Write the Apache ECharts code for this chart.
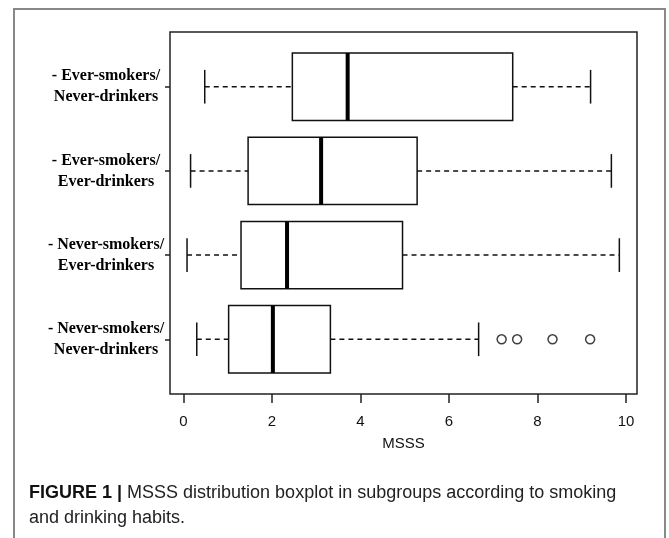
<!DOCTYPE html>
<html>
<head>
<meta charset="utf-8">
<script src="https://cdn.jsdelivr.net/npm/echarts@6/dist/echarts.min.js"></script>
<style>
html,body{margin:0;padding:0;background:#fff;}
#chart{width:669px;height:538px;}
</style>
</head>
<body>
<div id="chart"></div>
<script>
// Categories from bottom (position 1) to top (position 4)
const categories = [
  '- Never-smokers/\nNever-drinkers',
  '- Never-smokers/\nEver-drinkers',
  '- Ever-smokers/\nEver-drinkers',
  '- Ever-smokers/\nNever-drinkers'
];
const positions = [1, 2, 3, 4];
const lowerWhisker = [0.30, 0.08, 0.16, 0.48];
const q1 = [1.02, 1.30, 1.46, 2.46];
const median = [2.02, 2.34, 3.11, 3.71];
const q3 = [3.32, 4.95, 5.28, 7.44];
const upperWhisker = [6.67, 9.85, 9.67, 9.20];
const outlierValues = [7.19, 7.54, 8.34, 9.19];
const outlierGroup = [1, 1, 1, 1];
const xTicks = [0, 2, 4, 6, 8, 10];
const xName = 'MSSS';
const captionBold = 'FIGURE 1 |';
const captionLine1 = ' MSSS distribution boxplot in subgroups according to smoking';
const captionLine2 = 'and drinking habits.';

const boxData = positions.map((p, i) => [p, lowerWhisker[i], q1[i], median[i], q3[i], upperWhisker[i]]);
const outlierData = outlierValues.map((v, i) => [v, outlierGroup[i]]);

const chart = echarts.init(document.getElementById('chart'), null, {renderer: 'canvas'});

function renderBox(params, api) {
  const y = api.value(0);
  const lo = api.coord([api.value(1), y]);
  const a = api.coord([api.value(2), y]);
  const m = api.coord([api.value(3), y]);
  const b = api.coord([api.value(4), y]);
  const hi = api.coord([api.value(5), y]);
  const hb = api.size([0, 0.4])[1];
  const hc = api.size([0, 0.2])[1];
  const cy = lo[1];
  const dash = {stroke: '#111', lineWidth: 1.5, lineDash: [5, 4]};
  const solid = {stroke: '#111', lineWidth: 1.5};
  return {
    type: 'group',
    children: [
      {type: 'line', shape: {x1: lo[0], y1: cy, x2: a[0], y2: cy}, style: dash},
      {type: 'line', shape: {x1: b[0], y1: cy, x2: hi[0], y2: cy}, style: dash},
      {type: 'line', shape: {x1: lo[0], y1: cy - hc, x2: lo[0], y2: cy + hc}, style: solid},
      {type: 'line', shape: {x1: hi[0], y1: cy - hc, x2: hi[0], y2: cy + hc}, style: solid},
      {type: 'rect', shape: {x: a[0], y: cy - hb, width: b[0] - a[0], height: 2 * hb},
        style: {fill: '#fff', stroke: '#111', lineWidth: 1.5}},
      {type: 'line', shape: {x1: m[0], y1: cy - hb, x2: m[0], y2: cy + hb},
        style: {stroke: '#000', lineWidth: 4}}
    ]
  };
}

chart.setOption({
  animation: false,
  backgroundColor: '#fff',
  grid: {
    left: 170, top: 32, right: 32, bottom: 144,
    show: true, borderColor: '#222', borderWidth: 1.5, backgroundColor: 'transparent'
  },
  xAxis: {
    type: 'value',
    min: -0.305, max: 10.249,
    name: xName,
    nameLocation: 'middle',
    nameGap: 42,
    nameTextStyle: {fontFamily: 'Liberation Sans', fontSize: 15, color: '#111'},
    axisLine: {show: false, onZero: false},
    splitLine: {show: false},
    axisTick: {show: true, length: 9, lineStyle: {color: '#222', width: 1.5}, customValues: xTicks},
    axisLabel: {
      customValues: xTicks,
      margin: 20,
      fontFamily: 'Liberation Sans', fontSize: 15, color: '#111'
    }
  },
  yAxis: {
    type: 'value',
    min: 0.35, max: 4.65,
    axisLine: {show: false, onZero: false},
    splitLine: {show: false},
    axisTick: {show: true, length: 5, lineStyle: {color: '#222', width: 1.5}, customValues: positions},
    axisLabel: {
      customValues: positions,
      formatter: function (v) { return categories[Math.round(v) - 1] || ''; },
      margin: 64,
      align: 'center',
      lineHeight: 21,
      fontFamily: 'Liberation Serif', fontWeight: 'bold', fontSize: 16, color: '#000'
    }
  },
  series: [
    {
      type: 'custom',
      renderItem: renderBox,
      data: boxData,
      encode: {x: [1, 2, 3, 4, 5], y: 0},
      z: 2
    },
    {
      type: 'scatter',
      data: outlierData,
      symbol: 'circle',
      symbolSize: 9,
      itemStyle: {color: '#fff', borderColor: '#111', borderWidth: 1.5},
      z: 3
    }
  ],
  graphic: [
    {
      type: 'rect', z: -1, silent: true,
      shape: {x: 14, y: 9, width: 651, height: 620},
      style: {fill: 'none', stroke: '#888', lineWidth: 2}
    },
    {
      type: 'text', x: 29, y: 493,
      style: {
        text: '{b|' + captionBold + '}' + captionLine1,
        fontFamily: 'Liberation Sans', fontSize: 18, fill: '#222',
        verticalAlign: 'middle',
        rich: {b: {fontWeight: 'bold', fontFamily: 'Liberation Sans', fontSize: 18, fill: '#111'}}
      }
    },
    {
      type: 'text', x: 29, y: 518,
      style: {
        text: captionLine2,
        fontFamily: 'Liberation Sans', fontSize: 18, fill: '#222',
        verticalAlign: 'middle'
      }
    }
  ]
});
</script>
</body>
</html>
